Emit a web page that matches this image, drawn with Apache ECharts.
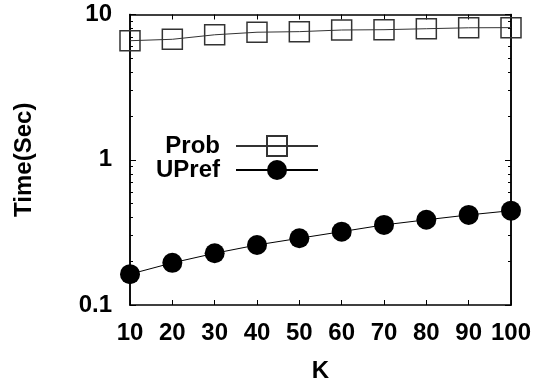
<!DOCTYPE html>
<html><head><meta charset="utf-8">
<script src="https://cdn.jsdelivr.net/npm/echarts@6/dist/echarts.min.js"></script>
<style>html,body{margin:0;padding:0;background:#fff}#c{width:536px;height:385px}</style>
</head><body><div id="c"></div>
<script>
var kValues = [10, 20, 30, 40, 50, 60, 70, 80, 90, 100];
var probTimes = [6.6, 6.75, 7.25, 7.55, 7.62, 7.82, 7.86, 7.98, 8.1, 8.12];
var uprefTimes = [0.163, 0.195, 0.227, 0.259, 0.288, 0.320, 0.356, 0.386, 0.417, 0.446];
var yMajorTicks = [0.1, 1, 10];
var yMinorTicks = [0.2,0.3,0.4,0.5,0.6,0.7,0.8,0.9,2,3,4,5,6,7,8,9];

var FONT = 'Liberation Sans';
var txt = {fontFamily: FONT, fontWeight: 'bold', fontSize: 24, color: '#000'};
var axisLine = {show: true, lineStyle: {color: '#000', width: 1.5}};

function pairs(ys) { return kValues.map(function (k, i) { return [k, ys[i]]; }); }

function yAx(pos, minor, labels) {
  return {
    type: 'log', logBase: 10, min: 0.1, max: 10, position: pos,
    axisLine: axisLine,
    axisTick: {inside: true, length: minor ? 3 : 6, lineStyle: {color: '#000', width: 1},
      customValues: minor ? yMinorTicks : yMajorTicks},
    axisLabel: labels ? Object.assign({margin: 18, customValues: yMajorTicks,
      formatter: function (v) { return String(+v.toPrecision(3)); }}, txt) : {show: false},
    splitLine: {show: false},
    name: labels ? 'Time(Sec)' : '', nameLocation: 'middle', nameGap: 94,
    nameTextStyle: txt
  };
}

var chart = echarts.init(document.getElementById('c'), null, {renderer: 'canvas'});
chart.setOption({
  animation: false,
  backgroundColor: '#fff',
  grid: {left: 130, right: 25, top: 14.5, bottom: 80, containLabel: false, outerBoundsMode: 'none'},
  legend: {
    orient: 'vertical', right: 217, top: 134, padding: 0, itemGap: 0,
    align: 'right', itemWidth: 82, itemHeight: 25,
    textStyle: Object.assign({padding: [0, 11, 0, 0]}, txt),
    data: ['Prob', 'UPref']
  },
  xAxis: [{
    type: 'value', min: 10, max: 100, interval: 10, position: 'bottom',
    axisLine: axisLine,
    axisTick: {inside: true, length: 5, lineStyle: {color: '#000', width: 1}},
    axisLabel: Object.assign({margin: 16}, txt),
    splitLine: {show: false},
    name: 'K', nameLocation: 'middle', nameGap: 54, nameTextStyle: txt
  }, {
    type: 'value', min: 10, max: 100, interval: 10, position: 'top',
    axisLine: axisLine,
    axisTick: {inside: true, length: 5, lineStyle: {color: '#000', width: 1}},
    axisLabel: {show: false}, splitLine: {show: false}
  }],
  yAxis: [yAx('left', false, true), yAx('left', true, false), yAx('right', false, false), yAx('right', true, false)],
  series: [{
    name: 'Prob', type: 'line', data: pairs(probTimes), clip: false,
    symbol: 'rect', symbolSize: 20,
    itemStyle: {color: 'rgba(255,255,255,0)', borderColor: '#333', borderWidth: 1.5},
    lineStyle: {color: '#333', width: 1}
  }, {
    name: 'UPref', type: 'line', data: pairs(uprefTimes), clip: false,
    symbol: 'circle', symbolSize: 20,
    itemStyle: {color: '#000', borderWidth: 0},
    lineStyle: {color: '#000', width: 1}
  }]
});
</script></body></html>
